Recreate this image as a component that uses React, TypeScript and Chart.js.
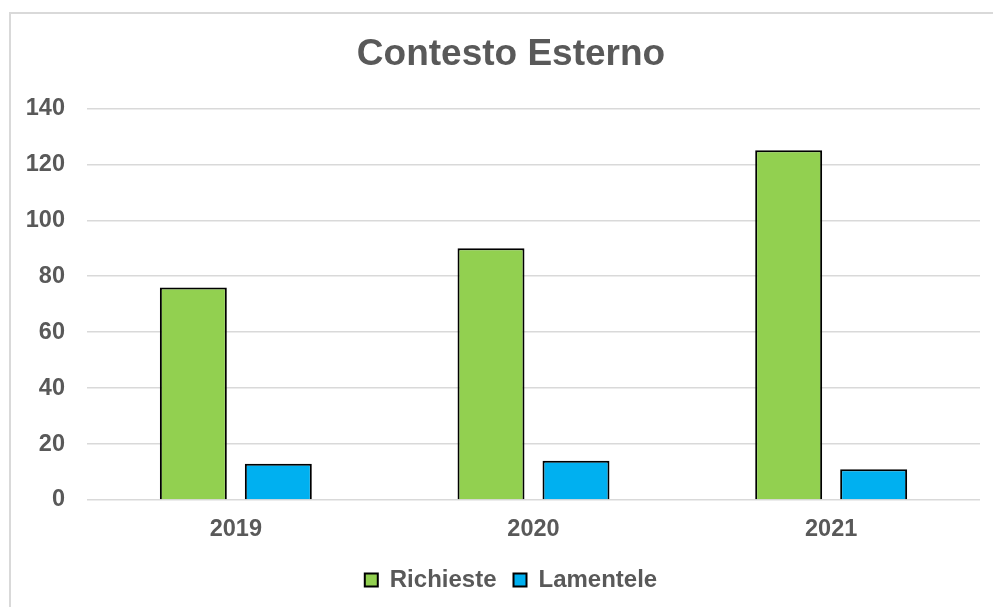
import React, { useEffect, useRef } from "react";
import { Chart, registerables } from "chart.js";

Chart.register(...registerables);

const categories = ["2019", "2020", "2021"];
const richieste = [76, 90, 125];
const lamentele = [13, 14, 11];
const yTicks = [0, 20, 40, 60, 80, 100, 120, 140];

const GRAY = "#595959";
const FONT = "'Liberation Sans', Arial, sans-serif";

// lets the y tick labels extend left of the axis box without being clipped
const unclipYLabels = {
  id: "unclipYLabels",
  afterLayout(chart: any) {
    const y = chart.scales.y;
    if (y) y.left = 0;
  },
};

export default function App() {
  const ref = useRef<HTMLCanvasElement | null>(null);

  useEffect(() => {
    document.body.style.margin = "0";
    document.body.style.overflow = "hidden";
    const ctx = ref.current;
    if (!ctx) return;
    const chart = new Chart(ctx, {
      type: "bar",
      data: {
        labels: categories,
        datasets: [
          {
            label: "Richieste",
            data: richieste,
            backgroundColor: "#92D050",
            borderColor: "#000000",
            borderWidth: 2,
            categoryPercentage: 0.571,
            barPercentage: 0.788,
          },
          {
            label: "Lamentele",
            data: lamentele,
            backgroundColor: "#00B0F0",
            borderColor: "#000000",
            borderWidth: 2,
            categoryPercentage: 0.571,
            barPercentage: 0.788,
          },
        ],
      },
      plugins: [unclipYLabels],
      options: {
        animation: false,
        responsive: false,
        maintainAspectRatio: false,
        layout: { padding: { left: 42, right: 13, top: 0, bottom: 5 } },
        plugins: {
          title: {
            display: true,
            text: "Contesto Esterno",
            color: GRAY,
            font: { family: FONT, size: 37, weight: "bold" },
            padding: { top: 33, bottom: 31 },
          },
          legend: {
            display: true,
            position: "bottom",
            labels: {
              color: GRAY,
              font: { family: FONT, size: 24, weight: "bold" },
              boxWidth: 13,
              boxHeight: 13,
              padding: 17,
            },
          },
          tooltip: { enabled: false },
        },
        scales: {
          x: {
            grid: { display: false, drawTicks: false },
            border: { display: false },
            ticks: {
              color: GRAY,
              font: { family: FONT, size: 23.5, weight: "bold" },
              padding: 15,
            },
            afterFit: (scale: any) => {
              scale.height = 51;
            },
          },
          y: {
            min: 0,
            max: 140,
            afterBuildTicks: (scale: any) => {
              scale.ticks = yTicks.map((v) => ({ value: v }));
            },
            grid: { color: "#D9D9D9", lineWidth: 1.5, drawTicks: false },
            border: { display: false },
            ticks: {
              color: GRAY,
              font: { family: FONT, size: 23.5, weight: "bold" },
              padding: 22,
            },
            afterFit: (scale: any) => {
              scale.width = 45;
            },
          },
        },
      },
    });
    return () => chart.destroy();
  }, []);

  return (
    <div style={{ position: "relative", width: 993, height: 607, overflow: "hidden", background: "#fff" }}>
      <div
        style={{
          position: "absolute",
          left: 9,
          top: 12,
          width: 1000,
          height: 620,
          border: "2px solid #D9D9D9",
          boxSizing: "border-box",
        }}
      />
      <canvas
        ref={ref}
        width={993}
        height={607}
        style={{ position: "absolute", left: 0, top: 0, width: 993, height: 607 }}
      />
    </div>
  );
}
